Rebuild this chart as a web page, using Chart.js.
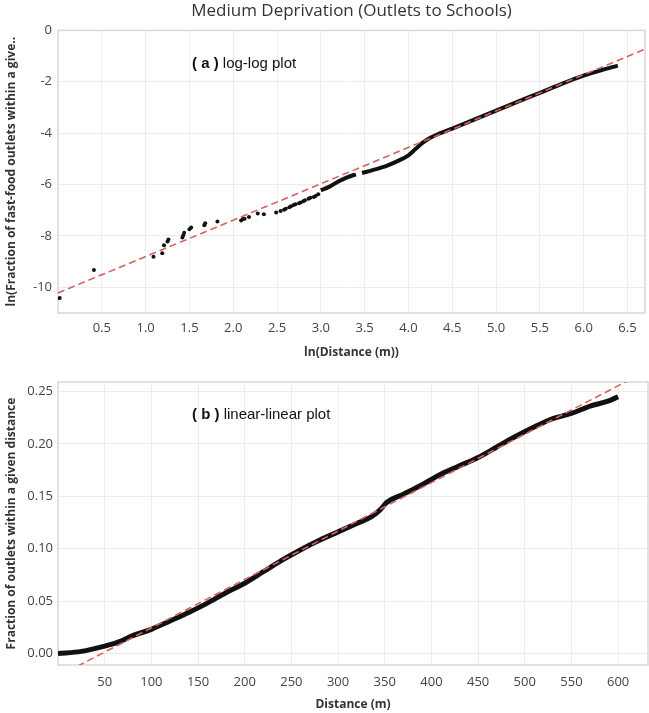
<!DOCTYPE html>
<html><head><meta charset="utf-8">
<script src="https://cdn.jsdelivr.net/npm/chart.js@4/dist/chart.umd.min.js"></script>
<style>
html,body{margin:0;padding:0;background:#fff;}
#wrapA{position:absolute;left:0;top:0;width:649px;height:362px;}
#wrapB{position:absolute;left:0;top:362px;width:649px;height:351px;}
</style></head><body>
<div id="wrapA"><canvas id="cA"></canvas></div>
<div id="wrapB"><canvas id="cB"></canvas></div>
<script>
// ---------- Panel (a): log-log ----------
const sparseLnDist = [0.02,0.41,1.09,1.19,1.21,1.25,1.26,1.42,1.43,1.44,1.50,1.52,1.67,1.68,1.82,2.09,2.11,2.13,2.18,2.28,2.35,2.49,2.54,2.58,2.60,2.64,2.66,2.69,2.71,2.75,2.77,2.80,2.82,2.86,2.88,2.92,2.94,2.97];
const sparseLnFrac = [-10.42,-9.33,-8.81,-8.67,-8.36,-8.22,-8.14,-8.06,-7.97,-7.88,-7.74,-7.67,-7.58,-7.51,-7.44,-7.40,-7.34,-7.33,-7.26,-7.13,-7.16,-7.09,-7.03,-6.98,-6.94,-6.88,-6.84,-6.80,-6.77,-6.73,-6.70,-6.65,-6.61,-6.55,-6.51,-6.48,-6.45,-6.38];
const denseLnDist = [3.00,3.10,3.20,3.30,3.40,3.44,3.47,3.60,3.75,3.90,4.00,4.08,4.16,4.25,4.35,4.50,4.75,5.00,5.25,5.50,5.75,6.00,6.20,6.39];
const denseLnFrac = [-6.22,-6.08,-5.88,-5.72,-5.60,null,-5.55,-5.43,-5.27,-5.05,-4.86,-4.62,-4.38,-4.18,-4.02,-3.82,-3.47,-3.12,-2.77,-2.43,-2.08,-1.76,-1.55,-1.37];
const fitALnDist = [0, 6.8];
const fitALnFrac = [-10.22, -0.59];
const xTicksA = [0.5,1.0,1.5,2.0,2.5,3.0,3.5,4.0,4.5,5.0,5.5,6.0,6.5];
const yTicksA = [-10,-8,-6,-4,-2,0];

// ---------- Panel (b): linear-linear ----------
const distance = [0,25,50,65,80,100,120,140,160,180,200,220,240,260,280,300,320,335,345,352,370,390,410,430,450,470,490,510,530,550,570,590,600];
const fraction = [0.000,0.002,0.007,0.011,0.017,0.023,0.031,0.039,0.048,0.058,0.067,0.078,0.089,0.099,0.108,0.116,0.124,0.130,0.137,0.144,0.152,0.161,0.171,0.179,0.187,0.197,0.207,0.216,0.224,0.229,0.236,0.241,0.245];
const fitBDist = [0, 650];
const fitBFrac = [-0.0218, 0.2785];
const xTicksB = [50,100,150,200,250,300,350,400,450,500,550,600];
const yTicksB = [0,0.05,0.10,0.15,0.20,0.25];

const pairs = (xs, ys) => xs.map((x, i) => ({x: x, y: ys[i]}));

const TICK_FONT = {family: "'Open Sans', sans-serif", size: 13};
const AXIS_FONT = {family: "'Open Sans', sans-serif", size: 12, weight: 'bold'};
const GRID = '#ececec';
const RED = '#d9605f';

const frame = {
  id: 'frame',
  beforeDatasetsDraw(chart) {
    const {ctx, chartArea: a} = chart;
    ctx.save();
    ctx.strokeStyle = '#d8d8d8';
    ctx.lineWidth = 1.5;
    ctx.strokeRect(a.left, a.top, a.right - a.left, a.bottom - a.top);
    ctx.restore();
  }
};

function annotation(bold, rest) {
  return {
    id: 'annot',
    afterDatasetsDraw(chart) {
      const {ctx, chartArea: a} = chart;
      ctx.save();
      ctx.fillStyle = '#111';
      ctx.textBaseline = 'middle';
      const x = a.left + 134, y = a.top + 33;
      ctx.font = "bold 15px 'Liberation Sans', Arial, sans-serif";
      ctx.fillText(bold, x, y);
      const w = ctx.measureText(bold).width;
      ctx.font = "15px 'Liberation Sans', Arial, sans-serif";
      ctx.fillText(rest, x + w, y);
      ctx.restore();
    }
  };
}

function tickSetter(arr) {
  return function(scale) { scale.ticks = arr.map(v => ({value: v})); };
}

// Panel a
new Chart(document.getElementById('cA'), {
  type: 'scatter',
  data: {
    datasets: [
      {
        type: 'line', data: pairs(fitALnDist, fitALnFrac),
        borderColor: RED, borderWidth: 1.6, borderDash: [7, 4],
        pointRadius: 0, fill: false, order: 1
      },
      {
        type: 'line', data: pairs(denseLnDist, denseLnFrac),
        borderColor: '#111', borderWidth: 4, pointRadius: 0,
        cubicInterpolationMode: 'monotone',
        spanGaps: false, fill: false, order: 2
      },
      {
        data: pairs(sparseLnDist, sparseLnFrac),
        backgroundColor: '#111', borderColor: '#111',
        pointRadius: 2, borderWidth: 0, order: 3
      }
    ]
  },
  options: {
    responsive: true, maintainAspectRatio: false, animation: false,
    devicePixelRatio: 1,
    layout: {padding: {top: 0, right: 1, left: 0, bottom: 0}},
    plugins: {
      legend: {display: false}, tooltip: {enabled: false},
      title: {
        display: true, text: 'Medium Deprivation (Outlets to Schools)',
        fullSize: false, color: '#333',
        font: {family: "'Open Sans', sans-serif", size: 17, weight: 'normal'},
        padding: {top: 1, bottom: 9}
      }
    },
    scales: {
      x: {
        type: 'linear', min: 0, max: 6.7,
        afterBuildTicks: tickSetter(xTicksA),
        afterFit(s) { s.height = 49; },
        grid: {color: GRID, drawTicks: false},
        border: {display: false},
        ticks: {font: TICK_FONT, color: '#444', padding: 7, maxRotation: 0,
                callback: v => v.toFixed(1)},
        title: {display: true, text: 'ln(Distance (m))', font: AXIS_FONT, color: '#333',
                padding: {top: 0, bottom: 2}}
      },
      y: {
        type: 'linear', min: -11, max: 0,
        afterBuildTicks: tickSetter(yTicksA),
        afterFit(s) { s.width = 58; },
        grid: {color: GRID, drawTicks: false},
        border: {display: false},
        ticks: {font: TICK_FONT, color: '#444', padding: 6,
                callback: v => String(v)},
        title: {display: true, text: 'ln(Fraction of fast-food outlets within a give..',
                font: AXIS_FONT, color: '#333', padding: {top: 4, bottom: 0}}
      }
    }
  },
  plugins: [frame, annotation('( a )', ' log-log plot')]
});

// Panel b
new Chart(document.getElementById('cB'), {
  type: 'scatter',
  data: {
    datasets: [
      {
        type: 'line', data: pairs(fitBDist, fitBFrac),
        borderColor: RED, borderWidth: 1.6, borderDash: [7, 4],
        pointRadius: 0, fill: false, order: 1
      },
      {
        type: 'line', data: pairs(distance, fraction),
        borderColor: '#111', borderWidth: 5, pointRadius: 0,
        cubicInterpolationMode: 'monotone',
        fill: false, order: 2
      }
    ]
  },
  options: {
    responsive: true, maintainAspectRatio: false, animation: false,
    devicePixelRatio: 1,
    layout: {padding: {top: 20, right: 1, left: 0, bottom: 0}},
    plugins: {legend: {display: false}, tooltip: {enabled: false}},
    scales: {
      x: {
        type: 'linear', min: 0, max: 632,
        afterBuildTicks: tickSetter(xTicksB),
        afterFit(s) { s.height = 48; },
        grid: {color: GRID, drawTicks: false},
        border: {display: false},
        ticks: {font: TICK_FONT, color: '#444', padding: 9, maxRotation: 0,
                callback: v => String(v)},
        title: {display: true, text: 'Distance (m)', font: AXIS_FONT, color: '#333',
                padding: {top: 0, bottom: 1}}
      },
      y: {
        type: 'linear', min: -0.011, max: 0.259,
        afterBuildTicks: tickSetter(yTicksB),
        afterFit(s) { s.width = 58; },
        grid: {color: GRID, drawTicks: false},
        border: {display: false},
        ticks: {font: TICK_FONT, color: '#444', padding: 5,
                callback: v => v.toFixed(2)},
        title: {display: true, text: 'Fraction of outlets within a given distance',
                font: AXIS_FONT, color: '#333', padding: {top: 4, bottom: 0}}
      }
    }
  },
  plugins: [frame, annotation('( b )', ' linear-linear plot')]
});
</script>
</body></html>
